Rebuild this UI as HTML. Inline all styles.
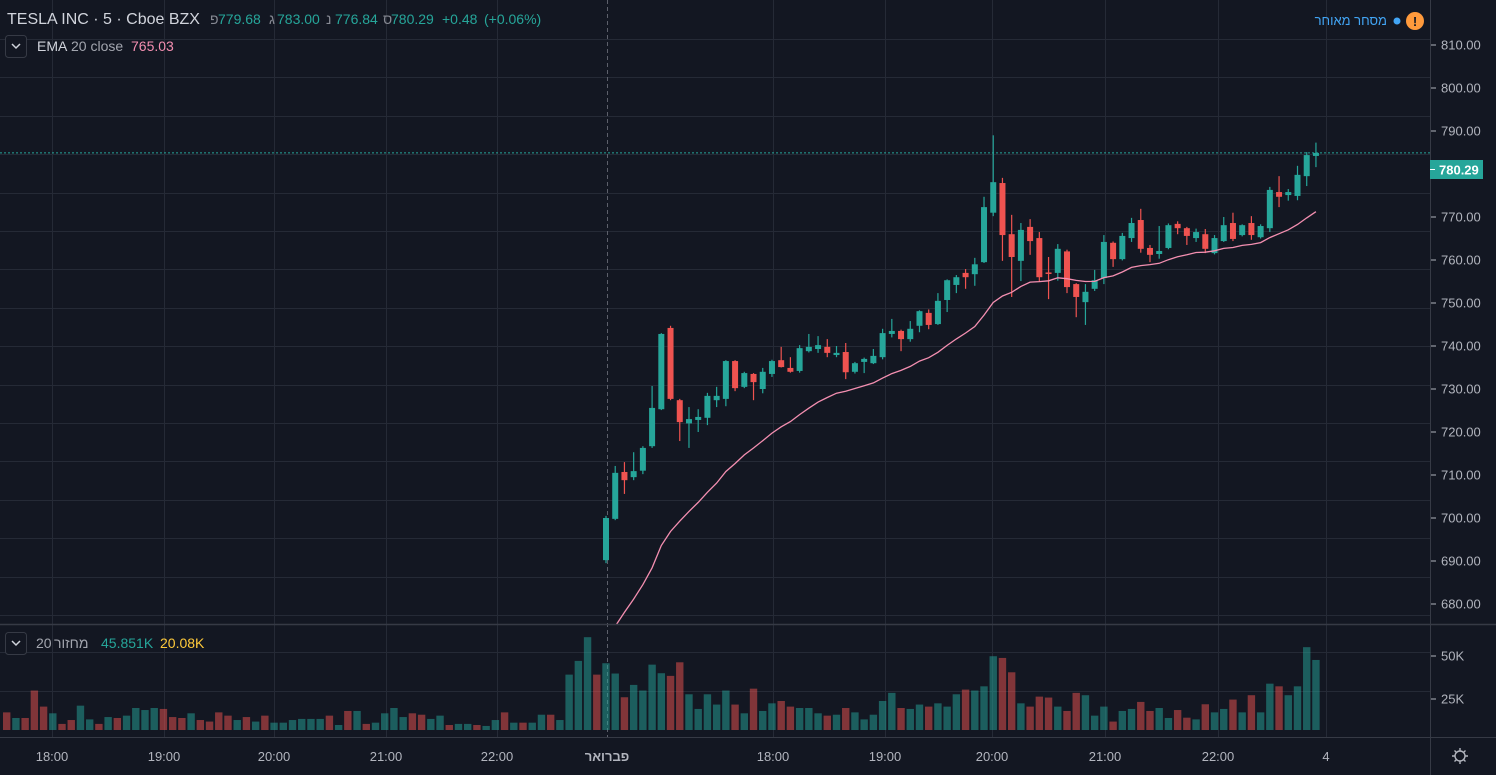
<!DOCTYPE html>
<html><head><meta charset="utf-8">
<style>
html,body{margin:0;padding:0;background:#131722;}
svg{display:block;font-family:"Liberation Sans","Noto Sans CJK JP",sans-serif;}
</style></head>
<body>
<svg id="chart" width="1496" height="775" viewBox="0 0 1496 775">
<rect x="0" y="0" width="1496" height="775" fill="#131722"/>
<g id="grid"></g>
<g id="vol"></g>
<g id="candles"></g>
<g id="ema"></g>
<g id="axes"></g>

<g>
<text x="7" y="24" font-size="16" fill="#d1d4dc">TESLA INC · 5 · Cboe BZX</text>
<g font-size="14">
<text x="210" y="24" fill="#868993">פ</text><text x="218" y="24" fill="#26a69a">779.68</text>
<text x="269" y="24" fill="#868993">ג</text><text x="277" y="24" fill="#26a69a">783.00</text>
<text x="326" y="24" fill="#868993">נ</text><text x="335" y="24" fill="#26a69a">776.84</text>
<text x="383" y="24" fill="#868993">ס</text><text x="391" y="24" fill="#26a69a">780.29</text>
<text x="442" y="24" fill="#26a69a">+0.48</text>
<text x="484" y="24" fill="#26a69a">(+0.06%)</text>
</g>
<rect x="5.5" y="35.5" width="21" height="22" rx="3" fill="#131722" stroke="#363a45"/>
<path d="M12 44 L16 48 L20 44" stroke="#d1d4dc" stroke-width="1.5" fill="none"/>
<text x="37" y="51" font-size="14" fill="#d1d4dc">EMA</text>
<text x="71" y="51" font-size="14" fill="#a3a6af">20 close</text>
<text x="131" y="51" font-size="14" fill="#f48fb1">765.03</text>
</g>
<g>
<text x="1387" y="25" font-size="13" fill="#42a5f5" text-anchor="end">מסחר מאוחר</text>
<circle cx="1397" cy="21" r="3.5" fill="#42a5f5"/>
<circle cx="1415" cy="21" r="9" fill="#ff9a3c"/>
<text x="1415" y="26" font-size="13" font-weight="bold" fill="#131722" text-anchor="middle">!</text>
</g>
<g>
<rect x="5.5" y="632.5" width="21" height="22" rx="3" fill="#131722" stroke="#363a45"/>
<path d="M12 641 L16 645 L20 641" stroke="#d1d4dc" stroke-width="1.5" fill="none"/>
<text x="36" y="648" font-size="14" fill="#a3a6af">20</text>
<text x="54" y="648" font-size="14" fill="#a3a6af">מחזור</text>
<text x="101" y="648" font-size="14" fill="#26a69a">45.851K</text>
<text x="160" y="648" font-size="14" fill="#ffca3b">20.08K</text>
</g>
<g>
<circle cx="1460" cy="756" r="5" fill="none" stroke="#b2b5be" stroke-width="1.4"/>
<path d="M1460 748v3M1460 761v3M1452 756h3M1465 756h3M1454.5 750.5l2 2M1463.5 759.5l2 2M1454.5 761.5l2-2M1463.5 752.5l2-2" stroke="#b2b5be" stroke-width="1.4"/>
</g>
</svg>
<script>
const opens=[690.2,699.8,710.7,709.5,711,716.7,725.3,744.2,727.4,722,722.8,723.3,727.4,727.7,736.5,730.5,733.5,730,733.5,736.7,734.9,734.2,738.8,739.3,739.8,737.9,738.6,734,736.3,736,737.4,742.8,743.5,741.6,744.7,747.7,745.1,750.7,754.2,757,756.7,759.5,771,777.9,766,759.8,767.7,765.1,757.1,757,762,754.4,750.2,753.3,755.8,764,760.2,765.1,769.3,762.8,761.4,762.8,768.4,767.4,765.1,766,761.6,764.4,768.6,765.8,768.6,765.3,767.4,775.8,775.1,774.9,779.5,784.2];
const highs=[700.5,712.1,713,715.3,716.7,730.7,743,744.7,727.7,725.8,725.3,729.1,730.5,736.7,736.7,734,733.7,734.9,736.8,739.8,737.4,740.2,742.8,742.3,741.6,740,740.7,736.3,737.3,739.3,744,746.3,743.8,745.8,748.3,748.5,752.3,755.5,756.5,757.9,760.5,774.7,789,779.1,770.5,768.6,769.5,766.5,760.7,763.7,762.4,754.6,754.4,757.7,765.8,764.3,766.3,769.8,771.9,763.5,767.9,768.5,769,767.7,767.3,767.2,765.8,770,771,768.3,770.2,768.3,777,779.5,776.5,781.9,785.1,787.3];
const lows=[689.5,699.5,705.6,708.8,710.2,716.3,725.1,727.4,717.9,716.3,720,721.6,725.8,726,729.5,730.2,727.4,729,732.8,735,733.8,733.8,738.5,738.4,737.4,737.4,732.3,733.6,733.7,735.8,736.9,742,738.8,741,743.2,743.9,744.9,747.9,752.3,753.3,754,759.3,770.2,759.8,751.4,755.1,761.2,754.9,750.9,755.2,752.3,746.7,744.9,752.8,754.4,758.4,759.9,764.2,761.7,759.5,760.3,762.5,766,763.5,764.2,761.6,761.3,764.2,764.4,765.5,764.7,765,766.5,772.3,773.8,773.9,777.2,781.6];
const closes=[700,710.5,708.8,710.9,716.3,725.6,742.8,727.7,722.3,723,723.5,728.4,728.4,736.5,730.2,733.7,731.6,734,736.5,735.1,734,739.5,739.8,740.2,738.4,738.4,733.9,736,737,737.7,743,743.5,741.6,744,748.1,744.9,750.5,755.3,756,756,759,772.3,778.1,765.8,760.7,767,764.4,756,756.9,762.6,753.7,751.4,752.6,755.3,764.2,760.2,765.6,768.6,762.6,761.2,762.1,768.1,767.4,765.6,766.5,762.6,765.1,768.1,764.9,768.1,765.8,767.9,776.3,774.7,775.8,779.8,784.4,784.9];
const volumes=[42.8,36.2,21.0,28.9,25.3,41.9,36.4,34.7,43.4,22.9,13.5,22.9,16.3,25.3,16.3,10.7,26.5,12.2,17.1,18.6,15.0,14.1,14.1,10.7,9.2,9.8,14.1,11.3,6.8,9.8,18.6,23.8,14.1,13.5,16.3,15.0,17.1,15.0,22.9,25.9,25.3,28.0,47.3,46.2,37.0,17.1,15.0,21.4,20.8,15.0,12.2,23.8,22.3,9.2,15.0,5.4,12.2,13.5,18.0,12.2,14.1,7.7,12.8,7.9,6.8,16.5,11.3,13.5,19.5,11.3,22.3,11.3,29.7,28.0,22.3,28.0,53.1,44.9];
const prevVolumes=[11.3,7.7,7.7,25.3,15.0,10.7,3.9,6.4,15.6,6.8,3.9,8.3,7.7,9.2,14.1,12.8,14.1,13.5,8.3,7.7,10.7,6.4,5.4,11.3,9.2,6.4,8.3,5.4,9.2,4.7,4.7,6.4,7.1,7.1,7.1,9.2,3.2,12.2,12.2,3.9,4.7,10.7,14.1,8.3,10.7,9.8,7.1,9.2,3.2,3.9,3.9,3.2,2.6,6.4,11.3,4.7,4.7,4.7,9.8,9.8,6.4,35.5,44.3,59.5,35.5];
const prevDirs="rgrrrgrrggrgrggggrrrgrrrrgrgrggggggrgrgrggggrrggrggrggrgrggrggggr";
const priceTicks=[810,800,790,780,770,760,750,740,730,720,710,700,690,680];
const volTicks=["50K","25K"];
const timeLabels=["18:00","19:00","20:00","21:00","22:00","פברואר","18:00","19:00","20:00","21:00","22:00","4"];
const timeLabelX=[52,164,274,386,497,607,773,885,992,1105,1218,1326];
const emaSeed=668;
const emaPeriod=20;

const NS="http://www.w3.org/2000/svg";
function el(tag,attrs,parent){const e=document.createElementNS(NS,tag);for(const k in attrs)e.setAttribute(k,attrs[k]);parent.appendChild(e);return e;}
const X0=606, STEP=9.22;
function xs(i){return X0+i*STEP;}
function ys(p){return 45+(810-p)*4.3;}
function yv(v){return 730-v/25*39;}
const G=document.getElementById('grid'),V=document.getElementById('vol'),C=document.getElementById('candles'),E=document.getElementById('ema'),A=document.getElementById('axes');
const GREEN="#26a69a",RED="#ef5350";

for(let k=0;k<16;k++){const y=Math.round(39+38.4*k)+0.5;if(y>622)break;
  const l=el('line',{x1:0,x2:1430,y1:y,y2:y,stroke:"#252a36","stroke-width":1},G);
  
  }
[652,691].forEach(y=>{const l=el('line',{x1:0,x2:1430,y1:y+0.5,y2:y+0.5,stroke:"#252a36"},G);
  
  });
timeLabelX.forEach((x,i)=>{if(i===5)return;const l=el('line',{x1:x+0.5,x2:x+0.5,y1:0,y2:737,stroke:"#252a36"},G);
  
  });
const sess=el('line',{x1:607.5,x2:607.5,y1:0,y2:737,stroke:"#5d606b","stroke-dasharray":"4 3"},G);



prevVolumes.forEach((v,i)=>{const j=i-prevVolumes.length;const up=prevDirs[i]!=='r';
  const r=el('rect',{x:xs(j)-3.7,y:yv(v),width:7.4,height:730-yv(v),fill:up?"rgba(38,166,154,0.5)":"rgba(239,83,80,0.5)"},V);
  
  });
volumes.forEach((v,i)=>{const up=closes[i]>=opens[i];
  const r=el('rect',{x:xs(i)-3.7,y:yv(v),width:7.4,height:730-yv(v),fill:up?"rgba(38,166,154,0.5)":"rgba(239,83,80,0.5)"},V);
  
  });

opens.forEach((o,i)=>{const c=closes[i],up=c>=o,col=up?GREEN:RED,x=xs(i);
  const g=el('g',{},C);
  
  
  el('line',{x1:x,x2:x,y1:ys(highs[i]),y2:ys(lows[i]),stroke:col,"stroke-width":1.2},g);
  const t=ys(Math.max(o,c)),b=ys(Math.min(o,c));
  el('rect',{x:x-3,y:t,width:6,height:Math.max(1.5,b-t),fill:col},g);});

let e=emaSeed;const a=2/(emaPeriod+1);const pts=[];
closes.forEach((c,i)=>{e=e+a*(c-e);pts.push(xs(i).toFixed(1)+","+ys(e).toFixed(1));});
const cp=el('clipPath',{id:'mainclip'},E);el('rect',{x:0,y:0,width:1430,height:624},cp);
const pl=el('polyline',{points:pts.join(" "),fill:"none",stroke:"#f48fb1","stroke-width":1.3,"clip-path":"url(#mainclip)"},E);



const last=closes[closes.length-1];
const pln=el('line',{x1:0,x2:1430,y1:ys(last),y2:ys(last),stroke:GREEN,"stroke-dasharray":"2 2","stroke-width":1},A);



el('line',{x1:1430.5,x2:1430.5,y1:0,y2:775,stroke:"#363a45"},A);
el('line',{x1:0,x2:1496,y1:624.5,y2:624.5,stroke:"#363a45","stroke-width":1.5},A);
el('line',{x1:0,x2:1496,y1:737.5,y2:737.5,stroke:"#363a45"},A);
priceTicks.forEach(p=>{const y=ys(p);
  el('line',{x1:1431,x2:1436,y1:y,y2:y,stroke:"#b2b5be"},A);
  const t=el('text',{x:1441,y:y+4.5,"font-size":13,fill:"#b2b5be"},A);t.textContent=p.toFixed(2);
  
  });
[656,699].forEach((y,i)=>{el('line',{x1:1431,x2:1436,y1:y,y2:y,stroke:"#b2b5be"},A);
  const t=el('text',{x:1441,y:y+4.5,"font-size":13,fill:"#b2b5be"},A);t.textContent=volTicks[i];
  
  });
const lb=el('rect',{x:1430,y:160,width:53,height:19,fill:GREEN},A);


el('line',{x1:1430,x2:1435,y1:169.5,y2:169.5,stroke:"#fff"},A);
const lt=el('text',{x:1439,y:174.5,"font-size":13,"font-weight":"bold",fill:"#fff"},A);lt.textContent="780.29";
timeLabels.forEach((s,i)=>{const t=el('text',{x:timeLabelX[i],y:761,"font-size":13,fill:"#b2b5be","text-anchor":"middle","font-weight":i===5?"bold":"normal"},A);
  t.textContent=s;
  
  });
</script>
</body></html>
